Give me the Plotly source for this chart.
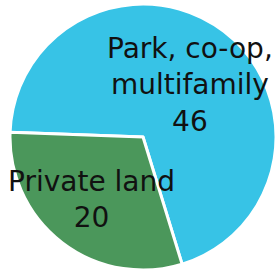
import plotly.graph_objects as go

labels = ["Park, co-op,<br>multifamily", "Private land"]
values = [46, 20]
colors = ["#37C3E6", "#4B975B"]

W, H = 276, 270
cx, cy, r = 143, 137, 133
# label block centres (pixels from top-left)
label_pos = [(190, 85), (91, 199)]

fig = go.Figure(go.Pie(
    labels=labels,
    values=values,
    sort=False,
    direction="clockwise",
    rotation=-88,
    marker=dict(colors=colors, line=dict(color="white", width=3)),
    textinfo="none",
    showlegend=False,
    hoverinfo="skip",
    domain=dict(x=[(cx - r) / W, min(1, (cx + r) / W)],
                y=[max(0, 1 - (cy + r) / H), 1 - (cy - r) / H]),
))
for lab, val, (px, py) in zip(labels, values, label_pos):
    fig.add_annotation(
        x=px / W, y=1 - py / H, xref="paper", yref="paper",
        xanchor="center", yanchor="middle", align="center",
        text=f"{lab}<br>{val}", showarrow=False,
        font=dict(family="DejaVu Sans", size=28, color="#111111"),
    )
fig.update_layout(
    width=W, height=H,
    margin=dict(l=0, r=0, t=0, b=0),
    paper_bgcolor="white",
)
fig.write_html("out.html", config={"displayModeBar": False},
               post_script="document.body.style.margin='0';")
